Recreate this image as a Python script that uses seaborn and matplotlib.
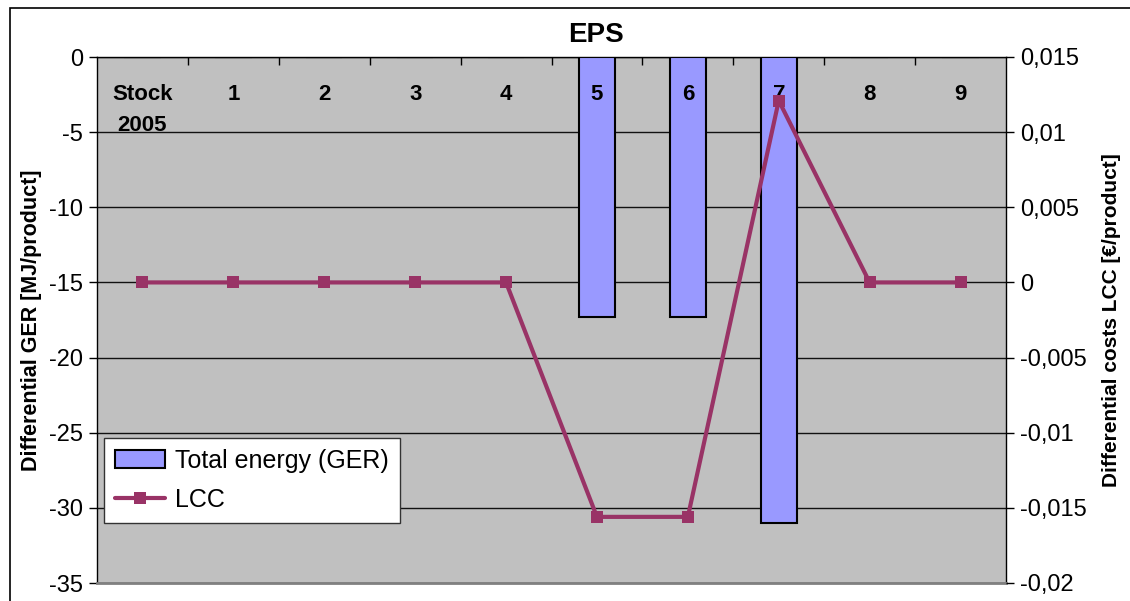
import matplotlib
matplotlib.use("Agg")
import matplotlib.pyplot as plt
import matplotlib.patches as mpatches
import matplotlib.lines as mlines
import matplotlib.transforms as mtransforms
import numpy as np
import pandas as pd
import seaborn as sns

categories = ["Stock\n2005", "1", "2", "3", "4", "5", "6", "7", "8", "9"]
ger_values = [0, 0, 0, 0, 0, -17.3, -17.3, -31.0, 0, 0]
lcc_values = [0, 0, 0, 0, 0, -0.0156, -0.0156, 0.0121, 0, 0]
left_ticks = [0, -5, -10, -15, -20, -25, -30, -35]
right_ticks = [0.015, 0.01, 0.005, 0, -0.005, -0.01, -0.015, -0.02]
right_tick_labels = ["0,015", "0,01", "0,005", "0", "-0,005", "-0,01", "-0,015", "-0,02"]

sns.set_style("white")
plt.rcParams["font.family"] = ["Liberation Sans", "DejaVu Sans"]
plt.rcParams["text.color"] = "black"
plt.rcParams["axes.labelcolor"] = "black"
plt.rcParams["xtick.color"] = "black"
plt.rcParams["ytick.color"] = "black"

fig = plt.figure(figsize=(11.30, 6.01), dpi=100)
ax = fig.add_axes([97 / 1130, 1 - 583 / 601, (1006 - 97) / 1130, (583 - 57) / 601])
ax.set_facecolor("#C0C0C0")

df = pd.DataFrame({"cat": categories, "ger": ger_values})
sns.barplot(data=df, x="cat", y="ger", order=categories, color="#9999FF",
            saturation=1, width=0.4, edgecolor="black", linewidth=1.5, ax=ax, zorder=3)
for p in ax.patches:
    p.set_zorder(3)

ax.set_ylim(-35, 0)
ax.set_xlim(-0.5, len(categories) - 0.5)
ax.set_yticks(left_ticks)
ax.set_yticklabels([str(t) for t in left_ticks], fontsize=17)
ax.grid(axis="y", color="#111111", linewidth=1)
ax.set_axisbelow(True)
ax.set_xlabel("")
ax.set_ylabel("Differential GER [MJ/product]", fontsize=15.5, fontweight="bold", labelpad=5)
ax.tick_params(axis="y", direction="out", length=6, width=1, color="black", left=True, pad=4)

# category axis at top (y=0): boundary ticks inside, labels drawn below the axis
ax.set_xticks([])
ax.set_xticks(np.arange(len(categories) - 1) + 0.5, minor=True)
ax.tick_params(axis="x", which="minor", top=True, bottom=False, direction="in",
               length=6, width=1, color="black", labelbottom=False)
trans = mtransforms.blended_transform_factory(ax.transData, ax.transAxes)
for i, c in enumerate(categories):
    ax.text(i, 0.948, c, transform=trans, ha="center", va="top", fontsize=16,
            fontweight="bold", multialignment="center", linespacing=1.6, zorder=6)

for s in ["left", "top", "right"]:
    ax.spines[s].set_color("black")
    ax.spines[s].set_linewidth(1)
ax.spines["bottom"].set_color("#808080")
ax.spines["bottom"].set_linewidth(2)

ax2 = ax.twinx()
x_pos = np.arange(len(categories))
sns.lineplot(x=x_pos, y=lcc_values, ax=ax2, color="#993366", linewidth=3,
             marker="s", markersize=9, markeredgewidth=0, zorder=5)
ax2.set_ylim(-0.02, 0.015)
ax2.set_yticks(right_ticks)
ax2.set_yticklabels(right_tick_labels, fontsize=17)
ax2.tick_params(axis="y", direction="out", length=6, width=1, color="black", right=True, pad=4)
ax2.set_ylabel("Differential costs LCC [€/product]", fontsize=15, fontweight="bold", labelpad=11)
for s in ax2.spines.values():
    s.set_visible(False)
ax2.grid(False)
ax.set_zorder(1)
ax2.set_zorder(2)
ax2.patch.set_visible(False)

fig.text(596 / 1130, 1 - 35 / 601, "EPS", ha="center", va="center", fontsize=20, fontweight="bold")

h1 = mpatches.Patch(facecolor="#9999FF", edgecolor="black", linewidth=1.5, label="Total energy (GER)")
h2 = mlines.Line2D([], [], color="#993366", linewidth=3, marker="s", markersize=9,
                   markeredgewidth=0, label="LCC")
leg = ax2.legend(handles=[h1, h2], loc="lower left", bbox_to_anchor=(7 / 909, 60 / 526),
                 fontsize=18, frameon=True, fancybox=False, edgecolor="#333333",
                 framealpha=1, borderpad=0.45, handlelength=2.0, handletextpad=0.4,
                 labelspacing=0.6, borderaxespad=0)
leg.get_frame().set_linewidth(1)

border = mpatches.Rectangle((10 / 1130, -0.1), 1.2, 1 - 8 / 601 + 0.1, transform=fig.transFigure,
                            fill=False, edgecolor="black", linewidth=1.2)
fig.patches.append(border)

fig.savefig("out.png", dpi=100)
